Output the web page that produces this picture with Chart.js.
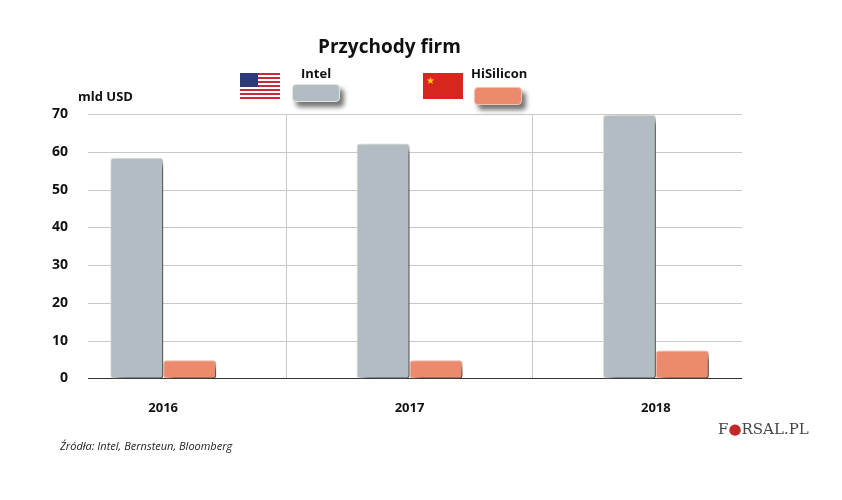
<!DOCTYPE html>
<html>
<head>
<meta charset="utf-8">
<script src="https://cdn.jsdelivr.net/npm/chart.js@4"></script>
<style>
  body { margin: 0; background: #fff; font-family: "Open Sans", sans-serif; }
  #wrap { position: relative; width: 842px; height: 500px; }
  .txt { position: absolute; font-weight: bold; color: #111; }
  .sw { position: absolute; width: 46px; height: 16px; border-radius: 4px; box-shadow: 4px 5px 5px rgba(0,0,0,0.55); }
</style>
</head>
<body>
<div id="wrap">
  <canvas id="c" width="842" height="500"></canvas>
  <div class="txt" style="left:318px;top:33px;font-size:19px;">Przychody firm</div>
  <div class="txt" style="left:78px;top:87px;font-size:13px;">mld USD</div>
  <canvas id="us" width="40" height="26" style="position:absolute;left:240px;top:73px;"></canvas>
  <div class="txt" style="left:301px;top:64px;font-size:13px;">Intel</div>
  <div class="sw" style="left:292px;top:84px;background:#b1bcc3;border:1px solid #e6e6d8;"></div>
  <canvas id="cn" width="40" height="26" style="position:absolute;left:423px;top:73px;"></canvas>
  <div class="txt" style="left:471px;top:64px;font-size:13px;">HiSilicon</div>
  <div class="sw" style="left:474px;top:87px;background:#ec8a6d;border:1px solid #f3c0ad;"></div>
  <div style="position:absolute;left:60px;top:438px;font-size:11px;font-style:italic;color:#222;">Źródła: Intel, Bernsteun, Bloomberg</div>
  <div style="position:absolute;left:718px;top:420px;font-size:15px;font-family:'DejaVu Serif',serif;color:#444;">F<span style="color:#c0282b">●</span>RSAL.PL</div>
</div>
<script>
const categories = ['2016', '2017', '2018'];
const intel = [58.4, 62.2, 69.8];
const hisilicon = [4.8, 4.8, 7.4];
const yTicks = [0, 10, 20, 30, 40, 50, 60, 70];

// flags
(function () {
  const u = document.getElementById('us').getContext('2d');
  for (let i = 0; i < 13; i++) { u.fillStyle = i % 2 ? '#fff' : '#c8283a'; u.fillRect(0, i * 2, 40, 2); }
  u.fillStyle = '#2c3a7a'; u.fillRect(0, 0, 18, 14);
  const c = document.getElementById('cn').getContext('2d');
  c.fillStyle = '#d8261e'; c.fillRect(0, 0, 40, 26);
  c.fillStyle = '#f6d312'; c.font = '10px sans-serif'; c.fillText('★', 3, 11);
})();

const shadowPlugin = {
  id: 'shadow',
  beforeDatasetsDraw(chart) {
    const ctx = chart.ctx;
    ctx.save();
    ctx.shadowColor = 'rgba(0,0,0,0.7)';
    ctx.shadowBlur = 7;
    ctx.shadowOffsetX = 6;
    ctx.shadowOffsetY = 5;
  },
  afterDatasetsDraw(chart) { chart.ctx.restore(); }
};

const hGrid = {
  id: 'hgrid',
  beforeDatasetsDraw(chart) {
    const ctx = chart.ctx, y = chart.scales.y;
    ctx.save();
    ctx.font = 'bold 14px "Open Sans"';
    ctx.textAlign = 'right';
    ctx.textBaseline = 'middle';
    yTicks.forEach(v => {
      const py = Math.round(y.getPixelForValue(v)) + 0.5;
      ctx.strokeStyle = v === 0 ? '#333' : '#c8c8c8';
      ctx.lineWidth = 1;
      ctx.beginPath(); ctx.moveTo(88, py); ctx.lineTo(742, py); ctx.stroke();
      ctx.fillStyle = '#111';
      ctx.fillText(String(v), 68, py);
    });
    ctx.restore();
  }
};

new Chart(document.getElementById('c'), {
  type: 'bar',
  data: {
    labels: categories,
    datasets: [
      { label: 'Intel', data: intel, backgroundColor: '#b1bcc3', borderColor: '#e6e6d8', borderWidth: 1, borderRadius: 3, borderSkipped: false },
      { label: 'HiSilicon', data: hisilicon, backgroundColor: '#ec8a6d', borderColor: '#f3c0ad', borderWidth: 1, borderRadius: 3, borderSkipped: false }
    ]
  },
  options: {
    responsive: false,
    animation: false,
    layout: { padding: { left: 40, right: 63, top: 114, bottom: 62 } },
    datasets: { bar: { barPercentage: 1, categoryPercentage: 0.43 } },
    plugins: { legend: { display: false }, tooltip: { enabled: false } },
    scales: {
      x: {
        border: { display: false },
        grid: {
          drawTicks: false,
          color: c => (c.index === 1 || c.index === 2) ? '#c8c8c8' : 'rgba(0,0,0,0)'
        },
        ticks: { padding: 22, color: '#111', font: { family: 'Open Sans', size: 13, weight: 'bold' } }
      },
      y: { display: false, min: 0, max: 70 }
    }
  },
  plugins: [hGrid, shadowPlugin]
});
</script>
</body>
</html>
